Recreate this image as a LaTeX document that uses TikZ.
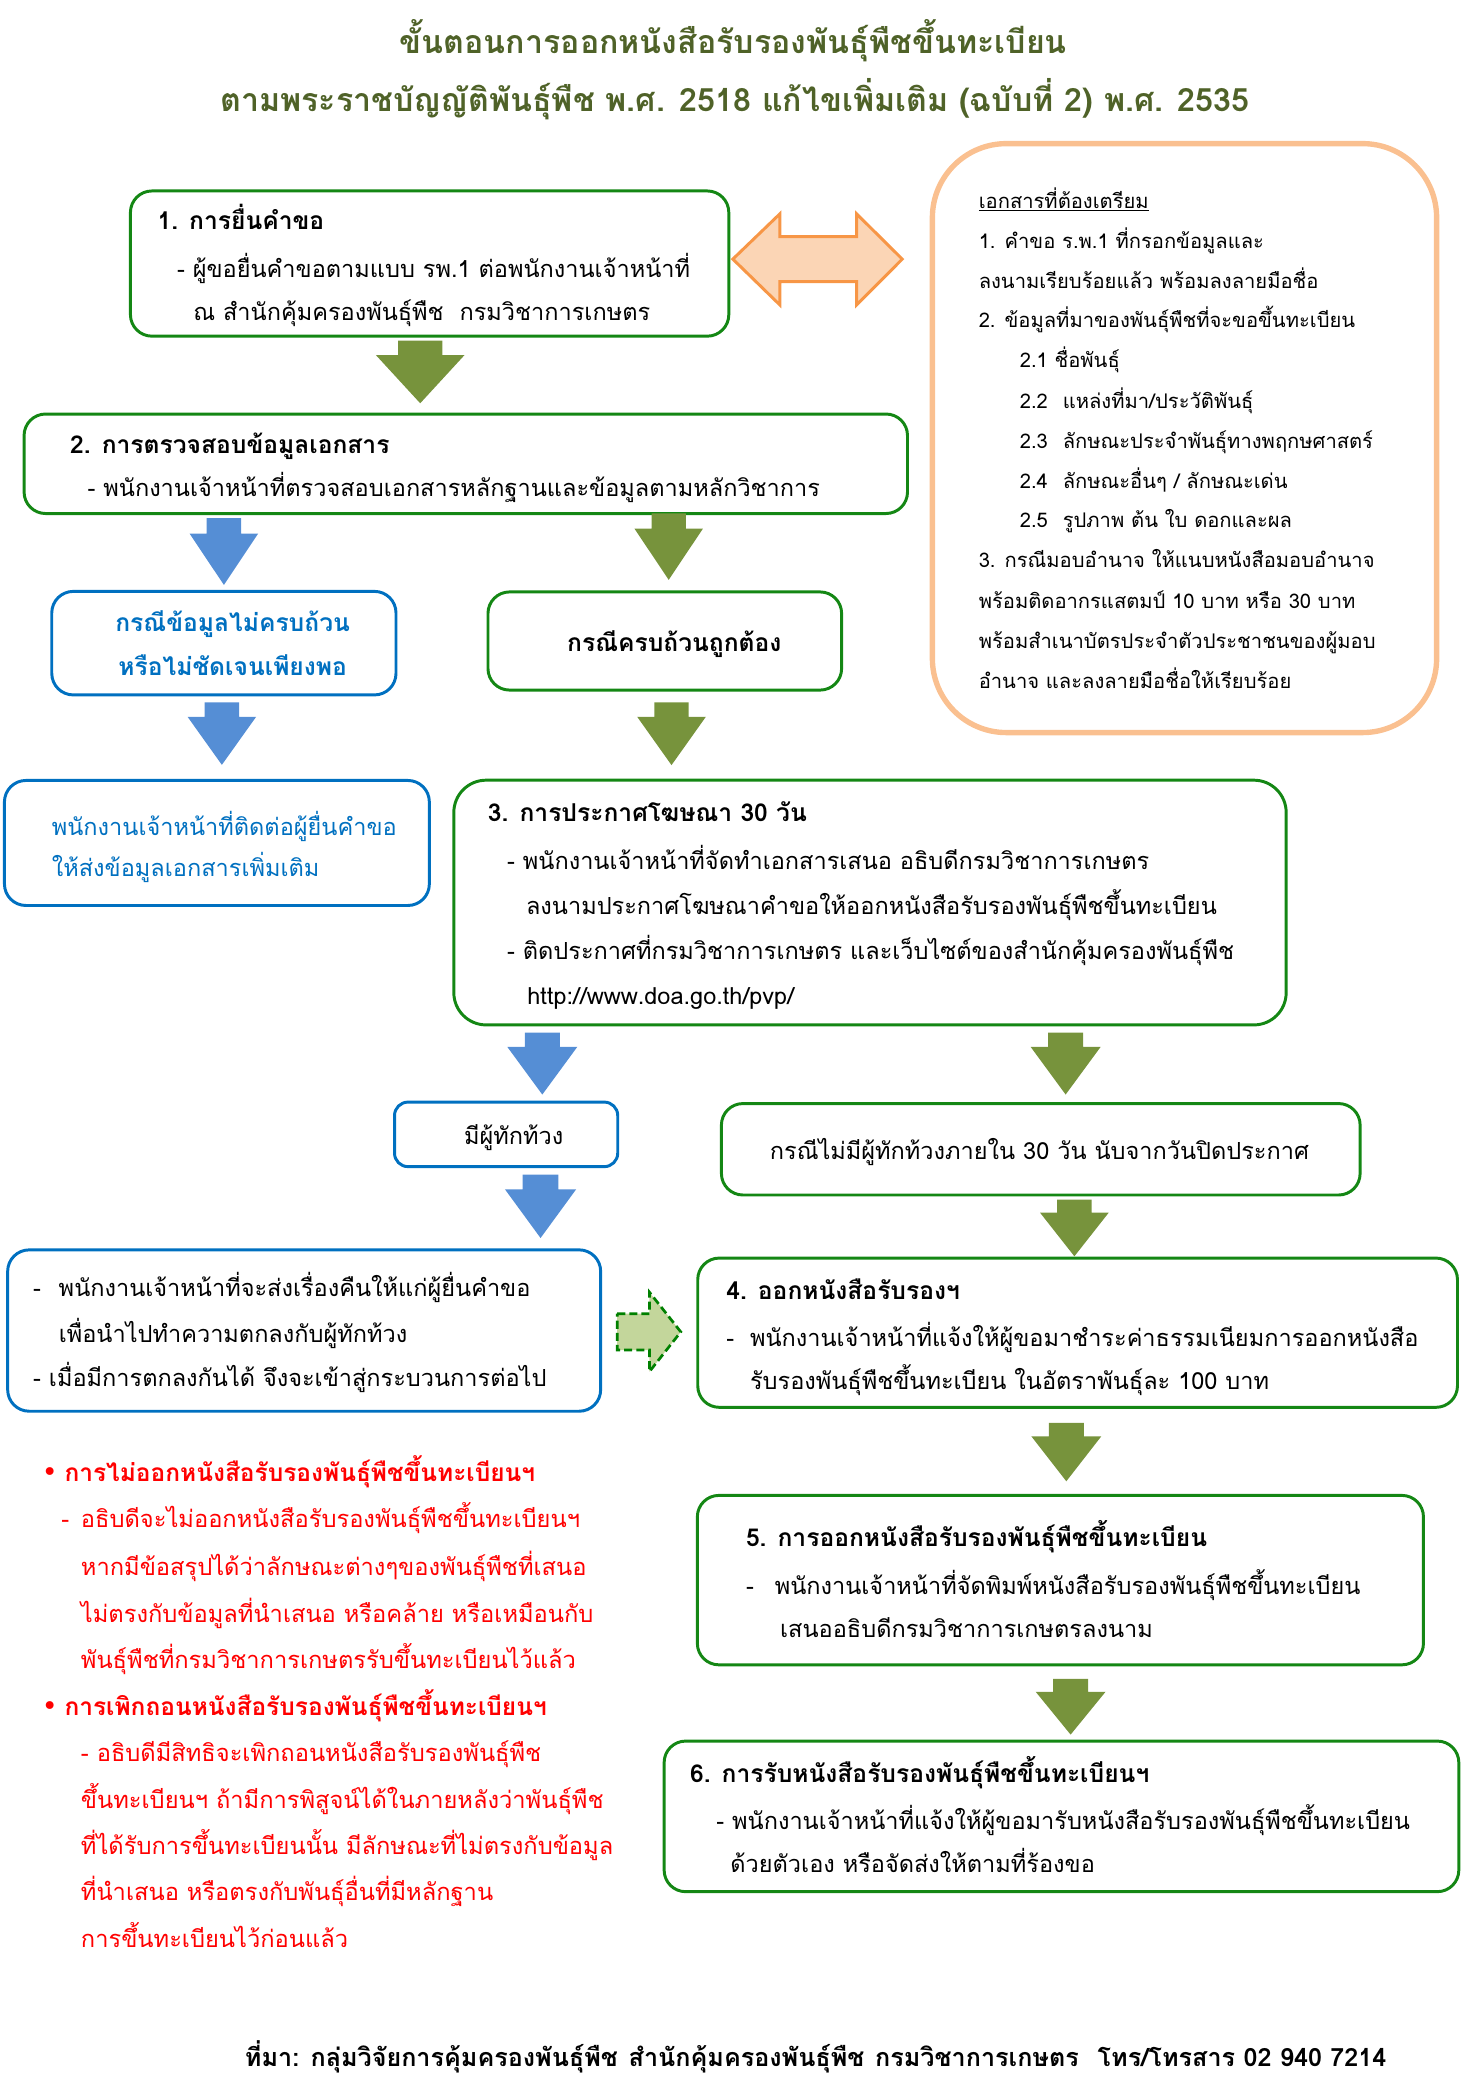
\documentclass[tikz,border=0pt]{standalone}
\usepackage{fontspec}
\setmainfont{Liberation Sans}
\newfontfamily\thai[Script=Thai]{Loma}
\newfontfamily\symfont{DejaVu Sans}

\definecolor{boxgreen}{RGB}{20,135,20}
\definecolor{boxblue}{RGB}{0,112,192}
\definecolor{olivearrow}{HTML}{77933C}
\definecolor{bluearrow}{HTML}{558ED5}
\definecolor{peachfill}{HTML}{FBD5B5}
\definecolor{peachline}{HTML}{F79646}
\definecolor{docline}{HTML}{FAC090}
\definecolor{titlegreen}{HTML}{4F6228}
\definecolor{dashfill}{HTML}{C3D69B}
\definecolor{dashline}{RGB}{0,128,0}
\definecolor{warnred}{RGB}{255,0,0}

\newcommand{\boxfont}{\thai\fontsize{17.5}{21}\selectfont}
\newcommand{\boldboxfont}{\thai\bfseries\fontsize{18.3}{22}\selectfont}
\newcommand{\docfont}{\thai\fontsize{15}{18}\selectfont}
\newcommand{\redfont}{\thai\fontsize{17.6}{21}\selectfont}
\newcommand{\redbold}{\thai\bfseries\fontsize{18.2}{22}\selectfont}
\newcommand{\headfont}{\thai\bfseries\fontsize{23.9}{29}\selectfont}
\newcommand{\footfont}{\thai\bfseries\fontsize{18.7}{22}\selectfont}

% block arrow pointing down: colour, x, top, tip, head width
\newcommand{\blockdown}[5]{%
  \fill[#1] ({#2-#5/4},#3) -- ({#2+#5/4},#3) -- ({#2+#5/4},{#3+0.23*(#4-#3)})
    -- ({#2+#5/2},{#3+0.23*(#4-#3)}) -- (#2,#4) -- ({#2-#5/2},{#3+0.23*(#4-#3)})
    -- ({#2-#5/4},{#3+0.23*(#4-#3)}) -- cycle;}

\begin{document}
\begin{tikzpicture}[x=1pt, y=-1pt,
  gbox/.style={draw=boxgreen, line width=2.2pt, rounded corners=16pt, inner sep=0pt},
  bbox/.style={draw=boxblue, line width=2.2pt, rounded corners=16pt, inner sep=0pt},
  txt/.style={anchor=base west, inner sep=0pt, font=\boxfont},
  headtxt/.style={anchor=base west, inner sep=0pt, font=\boldboxfont},
  ctxt/.style={anchor=base, inner sep=0pt, font=\boxfont},
  doctxt/.style={anchor=base west, inner sep=0pt, font=\docfont},
  redtxt/.style={anchor=base west, inner sep=0pt, font=\redfont, text=warnred}]
\useasboundingbox (0,0) rectangle (1100,1561);

% Title
\node[anchor=base, inner sep=0pt, font=\headfont, text=titlegreen] (head1) at (545.3,39.7) {ขั้นตอนการออกหนังสือรับรองพันธุ์พืชขึ้นทะเบียน};
\node[anchor=base, inner sep=0pt, font=\headfont, text=titlegreen] (head2) at (546.5,83) {ตามพระราชบัญญัติพันธุ์พืช พ.ศ. 2518 แก้ไขเพิ่มเติม (ฉบับที่ 2) พ.ศ. 2535};

% Boxes
\node[gbox, minimum width=445pt, minimum height=108pt] (apply) at (319.5,196) {};
\node[draw=docline, line width=4pt, rounded corners=55pt, minimum width=375pt, minimum height=438pt] (docs) at (880.9,325.8) {};
\node[gbox, minimum width=657pt, minimum height=74pt] (check) at (346.4,344.9) {};
\node[bbox, minimum width=256pt, minimum height=77pt] (incomplete) at (166.5,478.3) {};
\node[gbox, minimum width=263pt, minimum height=73pt] (complete) at (494.4,476.7) {};
\node[bbox, minimum width=316pt, minimum height=93pt] (contact) at (161.3,626.9) {};
\node[gbox, rounded corners=24pt, minimum width=619pt, minimum height=182pt] (announce) at (647,671.2) {};
\node[bbox, rounded corners=10pt, minimum width=166pt, minimum height=48pt] (objection) at (376.4,843.6) {};
\node[gbox, minimum width=475pt, minimum height=68pt] (noobj) at (774,854.7) {};
\node[bbox, minimum width=441pt, minimum height=120pt] (returnbox) at (226.2,989.5) {};
\node[gbox, minimum width=565pt, minimum height=111pt] (issue) at (801.4,991.1) {};
\node[gbox, minimum width=540pt, minimum height=126pt] (print) at (788.6,1175.1) {};
\node[gbox, minimum width=591pt, minimum height=112pt] (receive) at (789.4,1350.8) {};

% Step 1
\node[headtxt] (apply1) at (117,171) {1. การยื่นคำขอ};
\node[txt] (apply2) at (131.5,206) {- ผู้ขอยื่นคำขอตามแบบ รพ.1 ต่อพนักงานเจ้าหน้าที่};
\node[txt] (apply3) at (143.6,238) {ณ สำนักคุ้มครองพันธุ์พืช\ \ กรมวิชาการเกษตร};

% Documents
\node[doctxt] (doc0) at (727.7,155) {\underline{เอกสารที่ต้องเตรียม}};
\node[doctxt] (doc1) at (727.7,184.8) {1. คำขอ ร.พ.1 ที่กรอกข้อมูลและ};
\node[doctxt] (doc2) at (727.7,214.3) {ลงนามเรียบร้อยแล้ว พร้อมลงลายมือชื่อ};
\node[doctxt] (doc3) at (727.7,243.9) {2. ข้อมูลที่มาของพันธุ์พืชที่จะขอขึ้นทะเบียน};
\node[doctxt] (doc4) at (758.2,273.6) {2.1 ชื่อพันธุ์};
\node[doctxt] (doc5) at (758.2,303.5) {\makebox[32pt][l]{2.2}แหล่งที่มา/ประวัติพันธุ์};
\node[doctxt] (doc6) at (758.2,333.4) {\makebox[32pt][l]{2.3}ลักษณะประจำพันธุ์ทางพฤกษศาสตร์};
\node[doctxt] (doc7) at (758.2,363.3) {\makebox[32pt][l]{2.4}ลักษณะอื่นๆ / ลักษณะเด่น};
\node[doctxt] (doc8) at (758.2,392.6) {\makebox[32pt][l]{2.5}รูปภาพ ต้น ใบ ดอกและผล};
\node[doctxt] (doc9) at (727.7,422.4) {3. กรณีมอบอำนาจ ให้แนบหนังสือมอบอำนาจ};
\node[doctxt] (doc10) at (727.7,452.3) {พร้อมติดอากรแสตมป์ 10 บาท หรือ 30 บาท};
\node[doctxt] (doc11) at (727.7,482.2) {พร้อมสำเนาบัตรประจำตัวประชาชนของผู้มอบ};
\node[doctxt] (doc12) at (727.7,512) {อำนาจ และลงลายมือชื่อให้เรียบร้อย};

% Step 2
\node[headtxt] (check1) at (52,337) {2. การตรวจสอบข้อมูลเอกสาร};
\node[txt] (check2) at (65,369.4) {- พนักงานเจ้าหน้าที่ตรวจสอบเอกสารหลักฐานและข้อมูลตามหลักวิชาการ};

\node[ctxt, font=\boldboxfont, text=boxblue] (inc1) at (173,470) {กรณีข้อมูลไม่ครบถ้วน};
\node[ctxt, font=\boldboxfont, text=boxblue] (inc2) at (173,502) {หรือไม่ชัดเจนเพียงพอ};
\node[ctxt, font=\boldboxfont] (comp1) at (501.5,484.6) {กรณีครบถ้วนถูกต้อง};

\node[txt, text=boxblue] (cont1) at (38.4,621) {พนักงานเจ้าหน้าที่ติดต่อผู้ยื่นคำขอ};
\node[txt, text=boxblue] (cont2) at (38.4,651.8) {ให้ส่งข้อมูลเอกสารเพิ่มเติม};

% Step 3
\node[headtxt] (ann1) at (362.7,611) {3. การประกาศโฆษณา 30 วัน};
\node[txt] (ann2) at (377,646.8) {- พนักงานเจ้าหน้าที่จัดทำเอกสารเสนอ อธิบดีกรมวิชาการเกษตร};
\node[txt] (ann3) at (391,680) {ลงนามประกาศโฆษณาคำขอให้ออกหนังสือรับรองพันธุ์พืชขึ้นทะเบียน};
\node[txt] (ann4) at (377,713.8) {- ติดประกาศที่กรมวิชาการเกษตร และเว็บไซต์ของสำนักคุ้มครองพันธุ์พืช};
\node[txt] (ann5) at (392,747) {http://www.doa.go.th/pvp/};

\node[ctxt] (obj1) at (382,851) {มีผู้ทักท้วง};
\node[ctxt] (noobj1) at (773,862.5) {กรณีไม่มีผู้ทักท้วงภายใน 30 วัน นับจากวันปิดประกาศ};

\node[txt] (ret1) at (24.5,964) {\makebox[19pt][l]{-}พนักงานเจ้าหน้าที่จะส่งเรื่องคืนให้แก่ผู้ยื่นคำขอ};
\node[txt] (ret2) at (43.5,998.6) {เพื่อนำไปทำความตกลงกับผู้ทักท้วง};
\node[txt] (ret3) at (24.5,1031) {- เมื่อมีการตกลงกันได้ จึงจะเข้าสู่กระบวนการต่อไป};

% Step 4
\node[headtxt] (iss1) at (540,966.5) {4. ออกหนังสือรับรองฯ};
\node[txt] (iss2) at (540,1001) {\makebox[17.6pt][l]{-}พนักงานเจ้าหน้าที่แจ้งให้ผู้ขอมาชำระค่าธรรมเนียมการออกหนังสือ};
\node[txt] (iss3) at (557.6,1033.5) {รับรองพันธุ์พืชขึ้นทะเบียน ในอัตราพันธุ์ละ 100 บาท};

% Step 5
\node[headtxt] (prn1) at (554.6,1150) {5. การออกหนังสือรับรองพันธุ์พืชขึ้นทะเบียน};
\node[txt] (prn2) at (554.6,1186) {\makebox[21.4pt][l]{-}พนักงานเจ้าหน้าที่จัดพิมพ์หนังสือรับรองพันธุ์พืชขึ้นทะเบียน};
\node[txt] (prn3) at (580,1218) {เสนออธิบดีกรมวิชาการเกษตรลงนาม};

% Step 6
\node[headtxt] (rec1) at (513,1325.8) {6. การรับหนังสือรับรองพันธุ์พืชขึ้นทะเบียนฯ};
\node[txt] (rec2) at (532.6,1360.6) {- พนักงานเจ้าหน้าที่แจ้งให้ผู้ขอมารับหนังสือรับรองพันธุ์พืชขึ้นทะเบียน};
\node[txt] (rec3) at (543,1392.7) {ด้วยตัวเอง หรือจัดส่งให้ตามที่ร้องขอ};

% Notes in red
\node[redtxt] (nob) at (31,1101.7) {{\symfont\fontsize{20}{22}\selectfont •}\hspace{5pt}{\redbold การไม่ออกหนังสือรับรองพันธุ์พืชขึ้นทะเบียนฯ}};
\node[redtxt] (no1) at (45.5,1136.2) {\makebox[14.5pt][l]{-}อธิบดีจะไม่ออกหนังสือรับรองพันธุ์พืชขึ้นทะเบียนฯ};
\node[redtxt] (no2) at (60,1172) {หากมีข้อสรุปได้ว่าลักษณะต่างๆของพันธุ์พืชที่เสนอ};
\node[redtxt] (no3) at (60,1206.6) {ไม่ตรงกับข้อมูลที่นำเสนอ หรือคล้าย หรือเหมือนกับ};
\node[redtxt] (no4) at (60,1241.1) {พันธุ์พืชที่กรมวิชาการเกษตรรับขึ้นทะเบียนไว้แล้ว};
\node[redtxt] (wdb) at (31,1275.6) {{\symfont\fontsize{20}{22}\selectfont •}\hspace{5pt}{\redbold การเพิกถอนหนังสือรับรองพันธุ์พืชขึ้นทะเบียนฯ}};
\node[redtxt] (wd1) at (60,1310) {- อธิบดีมีสิทธิจะเพิกถอนหนังสือรับรองพันธุ์พืช};
\node[redtxt] (wd2) at (60,1344.7) {ขึ้นทะเบียนฯ ถ้ามีการพิสูจน์ได้ในภายหลังว่าพันธุ์พืช};
\node[redtxt] (wd3) at (60,1379.2) {ที่ได้รับการขึ้นทะเบียนนั้น มีลักษณะที่ไม่ตรงกับข้อมูล};
\node[redtxt] (wd4) at (60,1413.7) {ที่นำเสนอ หรือตรงกับพันธุ์อื่นที่มีหลักฐาน};
\node[redtxt] (wd5) at (60,1448.2) {การขึ้นทะเบียนไว้ก่อนแล้ว};

% Source line
\node[anchor=base west, inner sep=0pt, font=\footfont] (source) at (182,1536.6) {ที่มา: กลุ่มวิจัยการคุ้มครองพันธุ์พืช\hspace{8pt}สำนักคุ้มครองพันธุ์พืช\hspace{8pt}กรมวิชาการเกษตร\hspace{14pt}โทร/โทรสาร 02 940 7214};

% Block arrows
\blockdown{olivearrow}{312.5}{253.3}{299.9}{66}
\blockdown{bluearrow}{166.5}{385.4}{435}{51}
\blockdown{olivearrow}{497.3}{381.7}{431.2}{51}
\blockdown{bluearrow}{165}{522.4}{568.8}{51}
\blockdown{olivearrow}{499.4}{522.4}{569}{51}
\blockdown{bluearrow}{403.3}{768}{814}{52}
\blockdown{olivearrow}{792.5}{768}{814}{52}
\blockdown{bluearrow}{402}{873.6}{920.7}{53}
\blockdown{olivearrow}{799}{892.2}{934.3}{51}
\blockdown{olivearrow}{793}{1058.2}{1101.6}{52}
\blockdown{olivearrow}{796.2}{1248.6}{1290}{52}

% two-way arrow to the document list
\draw[fill=peachfill, draw=peachline, line width=2.2pt, line join=miter]
  (545,192.7) -- (580,159) -- (580,176) -- (637,176) -- (637,159) -- (671,192.7)
  -- (637,226.8) -- (637,209.4) -- (580,209.4) -- (580,226.8) -- cycle;

% dashed arrow to step 4
\draw[fill=dashfill, draw=dashline, line width=2pt, dash pattern=on 6pt off 3pt]
  (459,977) -- (483,977) -- (483,961) -- (506.3,990.5) -- (483,1020) -- (483,1004)
  -- (459,1004) -- cycle;
\end{tikzpicture}
\end{document}
